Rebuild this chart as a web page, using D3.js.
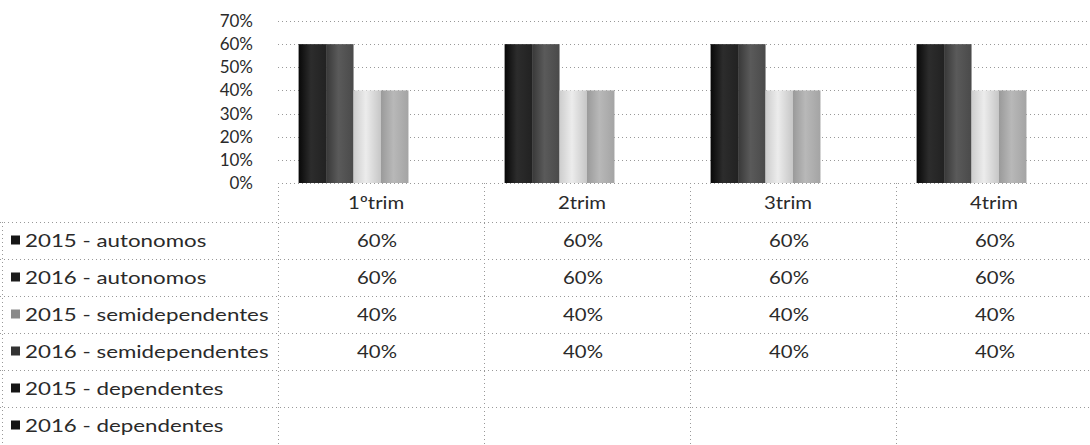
<!DOCTYPE html>
<html>
<head>
<meta charset="utf-8">
<script src="https://cdn.jsdelivr.net/npm/d3@7"></script>
<style>
  html, body { margin: 0; padding: 0; background: #fff; }
  svg { display: block; }
  text { font-family: Lato, "Noto Sans", sans-serif; fill: #2a2a2a; }
</style>
</head>
<body>
<svg id="chart" width="1090" height="445"></svg>
<script>
// Quarters shown along the category axis
const categories = ["1ºtrim", "2trim", "3trim", "4trim"];

// Series names, in legend / table order
const seriesNames = [
  "2015 - autonomos",
  "2016 - autonomos",
  "2015 - semidependentes",
  "2016 - semidependentes",
  "2015 - dependentes",
  "2016 - dependentes"
];

// Share per quarter for each series (null = no data)
const autonomos2015 = [0.6, 0.6, 0.6, 0.6];
const autonomos2016 = [0.6, 0.6, 0.6, 0.6];
const semidependentes2015 = [0.4, 0.4, 0.4, 0.4];
const semidependentes2016 = [0.4, 0.4, 0.4, 0.4];
const dependentes2015 = [null, null, null, null];
const dependentes2016 = [null, null, null, null];

// Value axis ticks
const yTicks = [0, 0.1, 0.2, 0.3, 0.4, 0.5, 0.6, 0.7];

const seriesValues = [
  autonomos2015, autonomos2016,
  semidependentes2015, semidependentes2016,
  dependentes2015, dependentes2016
];

const series = seriesNames.map((name, i) => ({ name, key: "s" + i, values: seriesValues[i] }));

// Fill gradients (left edge, middle, right edge) and legend swatch colours
const gradStops = {
  s0: ["#080808", "#2c2c2c", "#222"],
  s1: ["#383838", "#5a5a5a", "#4a4a4a"],
  s2: ["#cdcdcd", "#ececec", "#c6c6c6"],
  s3: ["#9a9a9a", "#b8b8b8", "#a4a4a4"],
  s4: ["#111", "#111", "#111"],
  s5: ["#111", "#111", "#111"]
};
const swatch = { s0: "#151515", s1: "#1c1c1c", s2: "#8a8a8a", s3: "#333", s4: "#151515", s5: "#151515" };

const W = 1090, H = 445;
const plotLeft = 278, plotRight = 1090;
const y0 = 183, yTop = 21;
const headerBottom = 222;
const rowH = 37;

const svg = d3.select("#chart");
svg.append("rect").attr("width", W).attr("height", H).attr("fill", "#fff");

const defs = svg.append("defs");
series.forEach(s => {
  const g = defs.append("linearGradient").attr("id", "g-" + s.key)
    .attr("x1", "0%").attr("x2", "100%").attr("y1", "0%").attr("y2", "0%");
  const st = gradStops[s.key];
  g.append("stop").attr("offset", "0%").attr("stop-color", st[0]);
  g.append("stop").attr("offset", "45%").attr("stop-color", st[1]);
  g.append("stop").attr("offset", "100%").attr("stop-color", st[2]);
});

// Scales
const x0 = d3.scaleBand().domain(categories).range([plotLeft, plotLeft + 206 * 4]).padding(0);
const x1 = d3.scaleBand().domain(series.map(s => s.key)).range([0, x0.bandwidth()])
  .paddingInner(0).paddingOuter(0.75);
const y = d3.scaleLinear().domain([0, 0.7]).range([y0, yTop]);

const dotted = sel => sel.attr("stroke", "#999").attr("stroke-width", 1)
  .attr("stroke-dasharray", "1 3").attr("fill", "none");

// Horizontal gridlines
svg.append("g").selectAll("line").data(yTicks).join("line")
  .attr("x1", plotLeft).attr("x2", plotRight)
  .attr("y1", d => Math.round(y(d)) + 0.5).attr("y2", d => Math.round(y(d)) + 0.5)
  .call(dotted);

// Y axis labels
const yAxis = d3.axisLeft(y).tickValues(yTicks).tickFormat(d3.format(".0%")).tickSize(0).tickPadding(0);
const yg = svg.append("g").attr("transform", "translate(253,0)").call(yAxis);
yg.select(".domain").remove();
yg.selectAll("text").attr("font-size", 17).attr("font-family", "Lato, sans-serif").attr("fill", "#333");

// Bars
const groups = svg.append("g").selectAll("g").data(categories).join("g")
  .attr("transform", d => `translate(${x0(d)},0)`);
groups.selectAll("rect")
  .data((c, ci) => series.filter(s => s.values[ci] != null).map(s => ({ key: s.key, v: s.values[ci] })))
  .join("rect")
  .attr("x", d => x1(d.key))
  .attr("width", x1.bandwidth())
  .attr("y", d => y(d.v))
  .attr("height", d => y0 - y(d.v))
  .attr("fill", d => `url(#g-${d.key})`);

// Data table grid
const tableBottom = headerBottom + rowH * series.length;
const grid = svg.append("g");
grid.append("line").attr("x1", plotLeft).attr("x2", plotRight).attr("y1", y0 + 0.5).attr("y2", y0 + 0.5).call(dotted);
const rowLines = d3.range(series.length).map(i => headerBottom + i * rowH);
grid.selectAll("line.row").data(rowLines).join("line").attr("class", "row")
  .attr("x1", 0).attr("x2", plotRight)
  .attr("y1", d => Math.round(d) + 0.5).attr("y2", d => Math.round(d) + 0.5).call(dotted);
const colEdges = categories.map(c => x0(c));
grid.selectAll("line.col").data(colEdges).join("line").attr("class", "col")
  .attr("x1", d => d + 0.5).attr("x2", d => d + 0.5)
  .attr("y1", y0).attr("y2", tableBottom).call(dotted);
grid.append("line").attr("x1", 2.5).attr("x2", 2.5).attr("y1", headerBottom).attr("y2", tableBottom).call(dotted);

// Category labels (table header)
svg.append("g").selectAll("text").data(categories).join("text")
  .attr("transform", d => `translate(${x0(d) + x0.bandwidth() / 2 - 5},${(y0 + headerBottom) / 2}) scale(1.13,1)`)
  .attr("dy", "0.35em").attr("text-anchor", "middle").attr("font-size", 18)
  .text(d => d);

// Legend column
const leg = svg.append("g").selectAll("g").data(series).join("g")
  .attr("transform", (d, i) => `translate(0,${headerBottom + i * rowH + rowH / 2})`);
leg.append("rect").attr("x", 11).attr("y", -5).attr("width", 9).attr("height", 9)
  .attr("fill", d => swatch[d.key]);
leg.append("text").attr("transform", "translate(25,0) scale(1.24,1)")
  .attr("dy", "0.35em").attr("font-size", 18)
  .text(d => d.name);

// Table values
const fmt = d3.format(".0%");
series.forEach((s, i) => {
  svg.append("g").selectAll("text").data(categories.map((c, ci) => ({ c, v: s.values[ci] })).filter(d => d.v != null))
    .join("text")
    .attr("transform", d => `translate(${x0(d.c) + x0.bandwidth() / 2 - 4},${headerBottom + i * rowH + rowH / 2}) scale(1.13,1)`)
    .attr("dy", "0.35em").attr("text-anchor", "middle").attr("font-size", 18)
    .text(d => fmt(d.v));
});
</script>
</body>
</html>
